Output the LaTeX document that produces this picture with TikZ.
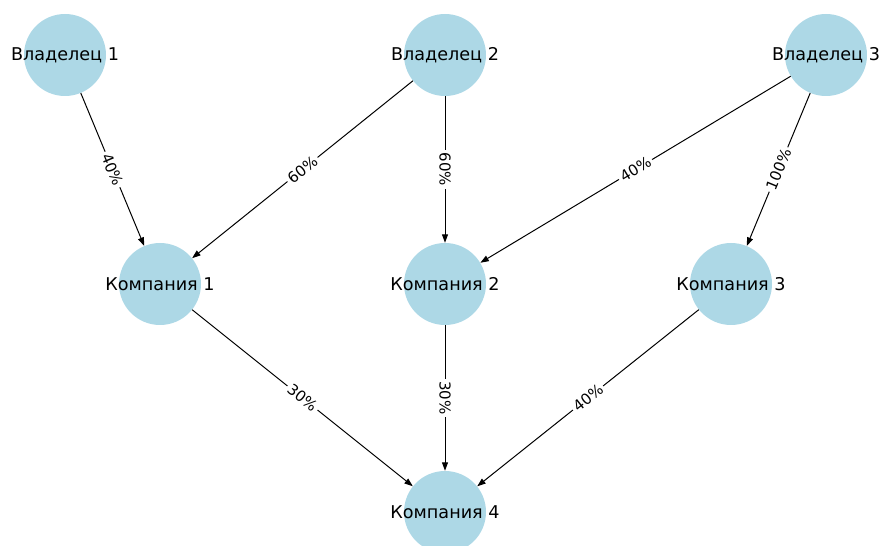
\documentclass[tikz,border=0pt]{standalone}
\usepackage{fontspec}
\setmainfont{DejaVu Sans}
\usetikzlibrary{arrows.meta}
\definecolor{nodeblue}{RGB}{173,216,230}
\begin{document}
\begin{tikzpicture}[x=1pt,y=1pt,font=\fontsize{17.6}{20}\selectfont,
  entity/.style={circle,fill=nodeblue,minimum size=82pt,inner sep=0pt},
  share/.style={-{Triangle[length=8.5pt,width=6pt]},line width=1pt},
  pct/.style={fill=white,inner sep=2.5pt,sloped,midway,font=\fontsize{15}{17}\selectfont}]
\useasboundingbox (0,0) rectangle (881,546);
% owners
\node[entity,label={center:Владелец 1}] (v1) at (65,491) {};
\node[entity,label={center:Владелец 2}] (v2) at (445,491) {};
\node[entity,label={center:Владелец 3}] (v3) at (826,491) {};
% companies
\node[entity,label={center:Компания 1}] (k1) at (160,262) {};
\node[entity,label={center:Компания 2}] (k2) at (445,262) {};
\node[entity,label={center:Компания 3}] (k3) at (731,262) {};
\node[entity,label={center:Компания 4}] (k4) at (445,34) {};
% shares
\draw[share] (v1) -- node[pct]{40\%} (k1);
\draw[share] (v2) -- node[pct]{60\%} (k1);
\draw[share] (v2) -- node[pct]{60\%} (k2);
\draw[share] (v3) -- node[pct]{40\%} (k2);
\draw[share] (v3) -- node[pct]{100\%} (k3);
\draw[share] (k1) -- node[pct]{30\%} (k4);
\draw[share] (k2) -- node[pct]{30\%} (k4);
\draw[share] (k3) -- node[pct]{40\%} (k4);
\end{tikzpicture}
\end{document}
